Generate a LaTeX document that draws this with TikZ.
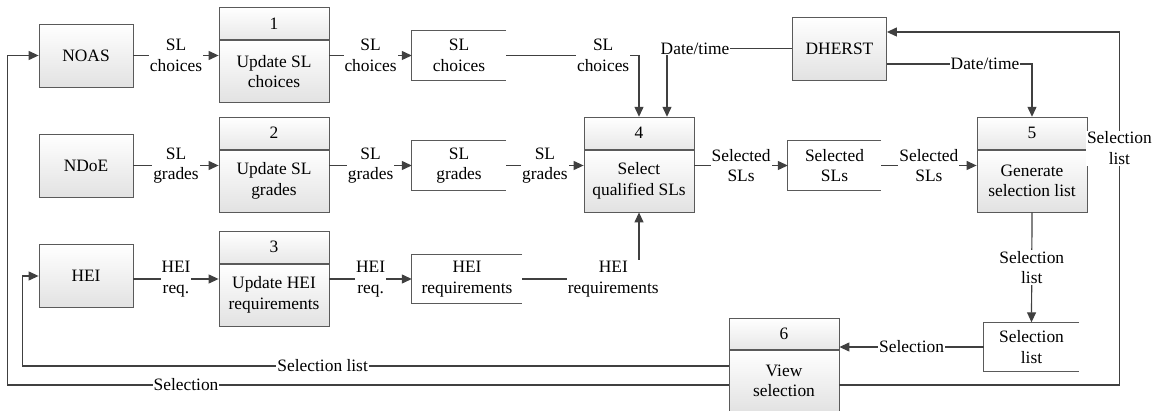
\documentclass[tikz,border=0pt]{standalone}
\usepackage{fontspec}
\setmainfont{Liberation Serif}
\usetikzlibrary{positioning,arrows.meta}

\definecolor{linegray}{HTML}{404040}
\definecolor{boxgray}{HTML}{5A5A5A}
\definecolor{fillgray}{HTML}{E2E2E2}

\tikzset{
  entity/.style={draw=boxgray, line width=0.8pt, top color=white, bottom color=fillgray,
    minimum width=94pt, minimum height=63pt, inner sep=0pt},
  prochead/.style={draw=boxgray, line width=0.8pt, top color=white, bottom color=fillgray!80,
    minimum width=110pt, minimum height=32pt, inner sep=0pt},
  procbody/.style={draw=boxgray, line width=0.8pt, top color=white, bottom color=fillgray,
    minimum width=110pt, minimum height=62pt, inner sep=0pt, align=center},
  store/.style={minimum width=94pt, minimum height=49pt, inner sep=0pt, align=center},
  flow/.style={draw=linegray, line width=1.2pt, -{Triangle[length=10pt,width=9pt]}},
  lbl/.style={fill=white, inner sep=1pt, align=center}
}

\begin{document}
\begin{tikzpicture}[x=1pt, y=-1pt, font=\rmfamily\fontsize{17.4}{20.5}\selectfont]
  \useasboundingbox (0,0) rectangle (1167,411);

  % external entities
  \node[entity] (noas) at (86,55.5) {NOAS};
  \node[entity] (ndoe) at (86,165.5) {NDoE};
  \node[entity] (hei) at (86,276) {HEI};
  \node[entity] (dherst) at (839.5,48.5) {DHERST};

  % processes
  \node[procbody] (p1) at (274,71.5) {Update SL\\choices};
  \node[prochead, above=0pt of p1] (p1h) {1};
  \node[procbody] (p2) at (274,181) {Update SL\\grades};
  \node[prochead, above=0pt of p2] (p2h) {2};
  \node[procbody] (p3) at (274,295) {Update HEI\\requirements};
  \node[prochead, above=0pt of p3] (p3h) {3};
  \node[procbody] (p4) at (639,181) {Select\\qualified SLs};
  \node[prochead, above=0pt of p4] (p4h) {4};
  \node[procbody] (p5) at (1032,181) {Generate\\selection list};
  \node[prochead, above=0pt of p5] (p5h) {5};
  \node[procbody] (p6) at (784,381) {View\\selection};
  \node[prochead, above=0pt of p6, minimum height=31pt] (p6h) {6};

  % data stores
  \node[store] (s1) at (459,55.5) {SL\\choices};
  \node[store] (s2) at (459,165.5) {SL\\grades};
  \node[store, minimum width=110pt] (s3) at (467,279) {HEI\\requirements};
  \node[store, minimum width=93pt] (s4) at (834.5,165.5) {Selected\\SLs};
  \node[store, minimum width=95pt] (s5) at (1031.5,347) {Selection\\list};
  \foreach \s in {s1,s2,s3,s4,s5}
    \draw[draw=boxgray, line width=0.8pt] (\s.north east) -- (\s.north west) -- (\s.south west) -- (\s.south east);

  % data flows
  \draw[flow] (noas.east) -- node[lbl] {SL\\choices} (noas.east -| p1.west);
  \draw[flow] (s1.west -| p1.east) -- node[lbl] {SL\\choices} (s1.west);
  \draw[flow] (ndoe.east) -- node[lbl] {SL\\grades} (ndoe.east -| p2.west);
  \draw[flow] (s2.west -| p2.east) -- node[lbl] {SL\\grades} (s2.west);
  \draw[flow] (s3.west -| hei.east) -- node[lbl] {HEI\\req.} (s3.west -| p3.west);
  \draw[flow] (s3.west -| p3.east) -- node[lbl] {HEI\\req.} (s3.west);
  \draw[flow] (s1.east) -| node[lbl, pos=0.365] {SL\\choices} (p4h.north);
  \draw[flow] (dherst.west) -| node[lbl, pos=0.388] {Date/time} ([xshift=28pt]p4h.north);
  \draw[flow] (s2.east) -- node[lbl] {SL\\grades} (s2.east -| p4.west);
  \draw[flow] (s3.east) -| node[lbl, pos=0.39] {HEI\\requirements} (p4.south);
  \draw[flow] (s4.west -| p4.east) -- node[lbl] {Selected\\SLs} (s4.west);
  \draw[flow] (s4.east) -- node[lbl] {Selected\\SLs} (s4.east -| p5.west);
  \draw[flow] ([yshift=-15.5pt]dherst.east) -| node[lbl, pos=0.338] {Date/time} (p5h.north);
  \draw[flow] (p5.south) -- node[lbl] {Selection\\list} (s5.north);
  \draw[flow] (s5.west) -- node[lbl] {Selection} (s5.west -| p6.east);
  \draw[flow] ([yshift=-4pt]p6.east) -| ([xshift=32pt]p5.east)
    |- node[lbl, pos=0.11] {Selection\\list} ([yshift=16.5pt]dherst.east);
  \draw[flow] ([yshift=15pt]p6.west) -| node[lbl, pos=0.2875] {Selection list} ([xshift=-16pt]hei.west) -- (hei.west);
  \draw[flow] ([yshift=-4pt]p6.west) -| node[lbl, pos=0.376] {Selection} ([xshift=-31.5pt]noas.west) -- (noas.west);
\end{tikzpicture}
\end{document}
